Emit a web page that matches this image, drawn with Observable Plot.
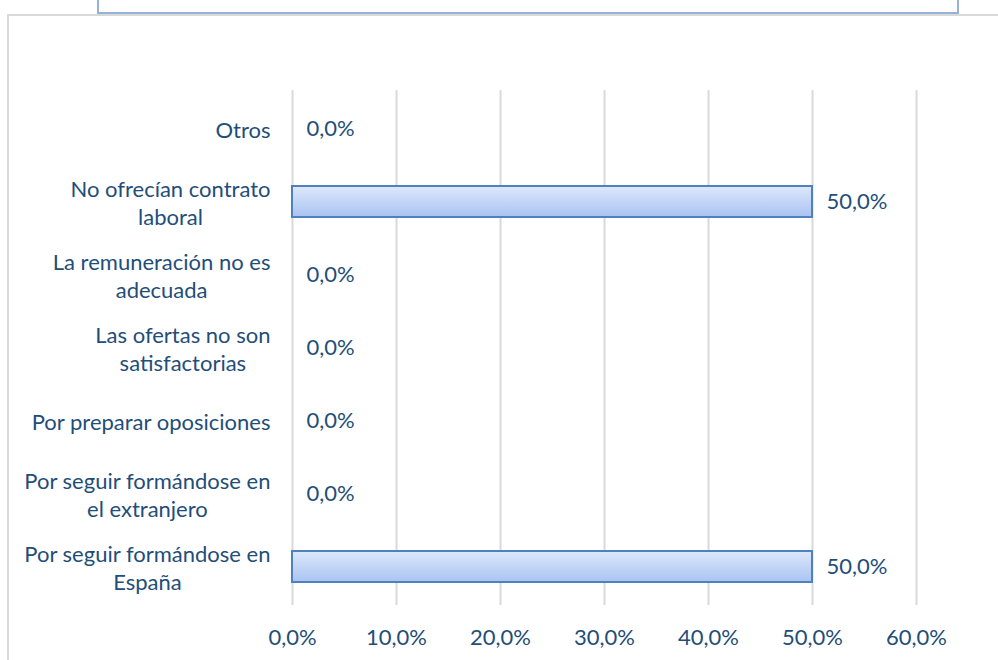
<!DOCTYPE html>
<html><head><meta charset="utf-8">
<script src="https://cdn.jsdelivr.net/npm/d3@7"></script>
<script src="https://cdn.jsdelivr.net/npm/@observablehq/plot@0.6"></script>
<style>
html,body{margin:0;padding:0;background:#fff;}
#wrap{position:relative;width:998px;height:660px;overflow:hidden;font-family:Lato,"Open Sans",sans-serif;}
#topbox{position:absolute;left:97px;top:-10px;width:858px;height:20px;border:2px solid #95b3d7;background:#fff;}
#frame{position:absolute;left:7px;top:14px;width:1000px;height:700px;border-left:2px solid #d9d9d9;border-top:2px solid #d9d9d9;}
#chart{position:absolute;left:0;top:0;}
</style></head>
<body><div id="wrap"><div id="topbox"></div><div id="frame"></div><div id="chart"></div></div>
<script>
const categories = ["Otros","No ofrecían contrato laboral","La remuneración no es adecuada","Las ofertas no son satisfactorias","Por preparar oposiciones","Por seguir formándose en el extranjero","Por seguir formándose en España"];
const categoryLabels = ["Otros","No ofrecían contrato\nlaboral","La remuneración no es\nadecuada","Las ofertas no son\nsatisfactorias","Por preparar oposiciones","Por seguir formándose en\nel extranjero","Por seguir formándose en\nEspaña"];
const values = [0.0, 0.5, 0.0, 0.0, 0.0, 0.0, 0.5];
const xTicks = [0, 0.1, 0.2, 0.3, 0.4, 0.5, 0.6];

const data = categories.map((c, i) => ({cat: c, value: values[i]}));
const fmt = v => (v * 100).toFixed(1).replace(".", ",") + "%";
const labelOf = Object.fromEntries(categories.map((c, i) => [c, categoryLabels[i]]));
const textColor = "#1f4e79";

const chart = Plot.plot({
  width: 998, height: 660,
  marginLeft: 292, marginRight: 82, marginTop: 90, marginBottom: 55,
  style: {fontFamily: "Lato, 'Open Sans', sans-serif", fontSize: "22px", color: textColor, background: "transparent"},
  x: {domain: [0, 0.6], label: null},
  y: {domain: categories, paddingInner: 0.58, paddingOuter: 0.29, label: null},
  marks: [
    Plot.ruleX(xTicks, {x: d => d, stroke: "#d9d9d9", strokeWidth: 2, strokeOpacity: 1}),
    Plot.axisX({ticks: xTicks, tickFormat: fmt, tickSize: 0, tickPadding: 24, fill: textColor, fontSize: 22, label: null}),
    Plot.axisY({tickSize: 0, tickPadding: 22, tickFormat: d => labelOf[d], fill: textColor, fontSize: 22, lineHeight: 1.27, label: null}),
    Plot.barX(data.filter(d => d.value > 0), {x: "value", y: "cat", fill: "url(#barGrad)", stroke: "#4f81bd", strokeWidth: 2, style: "filter: drop-shadow(0px 3px 2px rgba(0,0,0,0.25))"}),
    Plot.text(data, {x: "value", y: "cat", text: d => fmt(d.value), dx: 14, textAnchor: "start", fill: textColor, fontSize: 22})
  ]
});
const svg = d3.select(chart);
const defs = svg.insert("defs", ":first-child");
const g = defs.append("linearGradient").attr("id", "barGrad").attr("x1", 0).attr("y1", 0).attr("x2", 0).attr("y2", 1);
g.append("stop").attr("offset", "0%").attr("stop-color", "#dde8fb");
g.append("stop").attr("offset", "100%").attr("stop-color", "#a9c3f2");
document.getElementById("chart").appendChild(chart);

// Center multi-line category labels within their right-aligned block (as in the reference)
svg.selectAll('g[aria-label="y-axis tick label"] text').each(function() {
  const t = d3.select(this);
  const spans = this.querySelectorAll("tspan");
  if (spans.length < 2) return;
  const w = d3.max(Array.from(spans), s => s.getComputedTextLength());
  const tr = t.attr("transform") || "";
  t.attr("text-anchor", "middle").attr("transform", tr + ` translate(${-w / 2},0)`);
});
</script></body></html>
